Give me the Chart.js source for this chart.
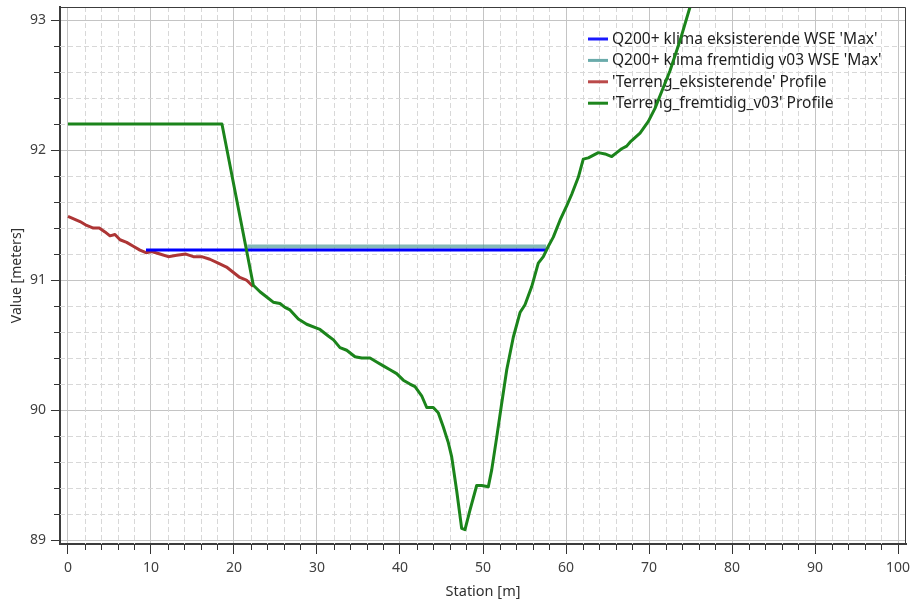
<!DOCTYPE html>
<html>
<head>
<meta charset="utf-8">
<script src="https://cdn.jsdelivr.net/npm/chart.js@4.4.1/dist/chart.umd.min.js"></script>
<style>
  html, body { margin: 0; padding: 0; background: #fff; }
  #wrap { width: 913px; height: 601px; }
</style>
</head>
<body>
<div id="wrap"><canvas id="profileChart" width="913" height="601"></canvas></div>
<script>
// Q200+ klima water surface, 'Max'
const wseExistStation = [9.4, 57.6];
const wseExistValue = [91.232, 91.232];
const wseFutureStation = [21.6, 57.6];
const wseFutureValue = [91.258, 91.258];

// existing terrain (only visible part, the rest lies under the new terrain)
const terrExistStation = [0, 1.45, 2.25, 3.05, 3.77, 4.46, 5.06, 5.66, 6.27, 7.07, 7.87, 8.67, 9.4, 10.08,
  11.08, 12.08, 13.1, 14.2, 15.1, 16.1, 17.1, 18.1, 19.1, 19.9, 20.7, 21.5, 22.3];
const terrExistValue = [91.49, 91.45, 91.42, 91.40, 91.40, 91.37, 91.34, 91.35, 91.31, 91.29, 91.26, 91.23, 91.21, 91.22,
  91.20, 91.18, 91.19, 91.20, 91.18, 91.18, 91.16, 91.13, 91.10, 91.06, 91.02, 91.00, 90.95];

// future terrain v03
const terrFutureStation = [0, 18.55, 22.33, 23.13, 23.94, 24.73, 25.54, 26.14, 26.75, 27.75, 28.76, 29.96, 30.36,
  31.36, 31.99, 32.77, 33.58, 34.58, 35.39, 36.39, 37.19, 37.99, 38.8, 39.6, 40.4, 41.2, 41.81, 42.61, 43.22,
  44.01, 44.61, 45.22, 45.82, 46.23, 46.83, 47.43, 47.83, 48.43, 49.24, 49.84, 50.64, 51.05, 51.65, 52.25,
  52.86, 53.65, 54.46, 55.06, 55.87, 56.66, 57.27, 57.87, 58.47, 59.28, 60.08, 60.69, 61.48, 62.08, 62.69,
  63.89, 64.7, 65.51, 66.11, 66.71, 67.31, 67.71, 68.92, 69.92, 70.72, 71.53, 72.53, 73.73, 74.94, 76.2];
const terrFutureValue = [92.2, 92.2, 90.96, 90.91, 90.87, 90.83, 90.82, 90.79, 90.77, 90.70, 90.66, 90.63, 90.62,
  90.57, 90.54, 90.48, 90.46, 90.41, 90.40, 90.40, 90.37, 90.34, 90.31, 90.28, 90.23, 90.20, 90.18, 90.11, 90.02,
  90.02, 89.98, 89.87, 89.75, 89.64, 89.38, 89.09, 89.08, 89.23, 89.42, 89.42, 89.41, 89.54, 89.79, 90.05,
  90.31, 90.56, 90.75, 90.81, 90.95, 91.13, 91.18, 91.26, 91.33, 91.46, 91.57, 91.66, 91.79, 91.93, 91.94,
  91.98, 91.97, 91.95, 91.98, 92.01, 92.03, 92.06, 92.13, 92.22, 92.32, 92.45, 92.61, 92.84, 93.10, 93.40];

const xTicks = [0, 10, 20, 30, 40, 50, 60, 70, 80, 90, 100];
const yTicks = [89, 90, 91, 92, 93];

const FONT = '"Noto Sans", "Open Sans", sans-serif';

function toPoints(xs, ys) {
    return xs.map((x, i) => ({ x: x, y: ys[i] }));
}

// minor dashed grid, minor tick marks, frame and the inside legend
const extrasPlugin = {
    id: 'extras',
    beforeDatasetsDraw(chart) {
        const ctx = chart.ctx;
        const area = chart.chartArea;
        const xs = chart.scales.x, ys = chart.scales.y;
        ctx.save();
        ctx.strokeStyle = '#d8d8d8';
        ctx.lineWidth = 1;
        ctx.setLineDash([5, 3]);
        for (let v = 0; v <= 100; v += 2) {
            if (v % 10 === 0) continue;
            const px = Math.round(xs.getPixelForValue(v)) + 0.5;
            ctx.beginPath();
            ctx.moveTo(px, area.top);
            ctx.lineTo(px, area.bottom);
            ctx.stroke();
        }
        for (let k = 0; k <= 20; k++) {
            if (k % 5 === 0) continue;
            const v = 89 + k * 0.2;
            const py = Math.round(ys.getPixelForValue(v)) + 0.5;
            ctx.beginPath();
            ctx.moveTo(area.left, py);
            ctx.lineTo(area.right, py);
            ctx.stroke();
        }
        ctx.setLineDash([]);

        // legend
        ctx.font = '15.5px ' + FONT;
        ctx.textBaseline = 'middle';
        ctx.textAlign = 'left';
        chart.data.datasets.forEach((ds, i) => {
            const y = 39 + i * 21.4;
            ctx.strokeStyle = ds.legendColor;
            ctx.lineWidth = 3;
            ctx.beginPath();
            ctx.moveTo(588, y);
            ctx.lineTo(608, y);
            ctx.stroke();
            ctx.fillStyle = '#1e1e1e';
            ctx.fillText(ds.label, 612, y + 0.5);
        });
        ctx.restore();
    },
    afterDraw(chart) {
        const ctx = chart.ctx;
        const area = chart.chartArea;
        const xs = chart.scales.x, ys = chart.scales.y;
        ctx.save();
        ctx.strokeStyle = '#333';
        ctx.lineWidth = 1;
        for (let v = 0; v <= 100; v += 2) {
            if (v % 10 === 0) continue;
            const px = Math.round(xs.getPixelForValue(v)) + 0.5;
            ctx.beginPath();
            ctx.moveTo(px, area.bottom);
            ctx.lineTo(px, area.bottom + 6);
            ctx.stroke();
        }
        for (let k = 0; k <= 20; k++) {
            if (k % 5 === 0) continue;
            const py = Math.round(ys.getPixelForValue(89 + k * 0.2)) + 0.5;
            ctx.beginPath();
            ctx.moveTo(area.left, py);
            ctx.lineTo(area.left - 6, py);
            ctx.stroke();
        }
        // top and right edges of the frame
        ctx.strokeStyle = '#3c3c3c';
        ctx.beginPath();
        ctx.moveTo(area.left, area.top + 0.5);
        ctx.lineTo(area.right - 0.5, area.top + 0.5);
        ctx.lineTo(area.right - 0.5, area.bottom);
        ctx.stroke();
        ctx.restore();
    }
};

const chartCanvas = document.getElementById('profileChart');
new Chart(chartCanvas, {
    type: 'line',
    data: {
        datasets: [{
            label: "Q200+ klima eksisterende WSE 'Max'",
            data: toPoints(wseExistStation, wseExistValue),
            borderColor: '#0000ff',
            legendColor: '#1a1aff',
            borderWidth: 3,
            order: 1
        }, {
            label: "Q200+ klima fremtidig v03 WSE 'Max'",
            data: toPoints(wseFutureStation, wseFutureValue),
            borderColor: 'rgba(80, 155, 155, 0.7)',
            legendColor: '#6aabab',
            borderWidth: 4,
            order: 2
        }, {
            label: "'Terreng_eksisterende' Profile",
            data: toPoints(terrExistStation, terrExistValue),
            borderColor: '#ad3535',
            legendColor: '#bb4a4a',
            borderWidth: 3,
            order: 3
        }, {
            label: "'Terreng_fremtidig_v03' Profile",
            data: toPoints(terrFutureStation, terrFutureValue),
            borderColor: '#1b841b',
            legendColor: '#1d861d',
            borderWidth: 3,
            order: 0
        }]
    },
    options: {
        responsive: false,
        animation: false,
        devicePixelRatio: 1,
        layout: { padding: { top: 7, right: 7, left: 0, bottom: 0 } },
        elements: { point: { radius: 0 }, line: { tension: 0, borderJoinStyle: 'round', borderCapStyle: 'butt' } },
        plugins: { legend: { display: false }, tooltip: { enabled: false } },
        scales: {
            x: {
                type: 'linear',
                min: -0.96,
                max: 100.96,
                afterFit: (scale) => { scale.height = 57; scale.paddingLeft = 0; scale.paddingRight = 0; },
                afterBuildTicks: (scale) => { scale.ticks = xTicks.map(v => ({ value: v })); },
                ticks: {
                    autoSkip: false,
                    maxRotation: 0,
                    padding: 6,
                    color: '#404040',
                    font: { family: FONT, size: 14 },
                    callback: (v) => String(v)
                },
                grid: { color: '#c4c4c4', lineWidth: 1, tickLength: 10, tickColor: '#333' },
                border: { display: true, color: '#3c3c3c', width: 2 },
                title: {
                    display: true,
                    text: 'Station [m]',
                    color: '#303030',
                    font: { family: FONT, size: 14.5 },
                    padding: { top: 0, bottom: 0 }
                }
            },
            y: {
                type: 'linear',
                min: 88.97,
                max: 93.1,
                afterFit: (scale) => { scale.width = 60; scale.paddingTop = 0; scale.paddingBottom = 0; },
                afterBuildTicks: (scale) => { scale.ticks = yTicks.map(v => ({ value: v })); },
                ticks: {
                    padding: 5,
                    color: '#404040',
                    font: { family: FONT, size: 14 },
                    callback: (v) => String(v)
                },
                grid: { color: '#c4c4c4', lineWidth: 1, tickLength: 9, tickColor: '#333' },
                border: { display: true, color: '#3c3c3c', width: 2 },
                title: {
                    display: true,
                    text: 'Value [meters]',
                    color: '#303030',
                    font: { family: FONT, size: 14 },
                    padding: { top: 9, bottom: 0 }
                }
            }
        }
    },
    plugins: [extrasPlugin]
});
</script>
</body>
</html>
